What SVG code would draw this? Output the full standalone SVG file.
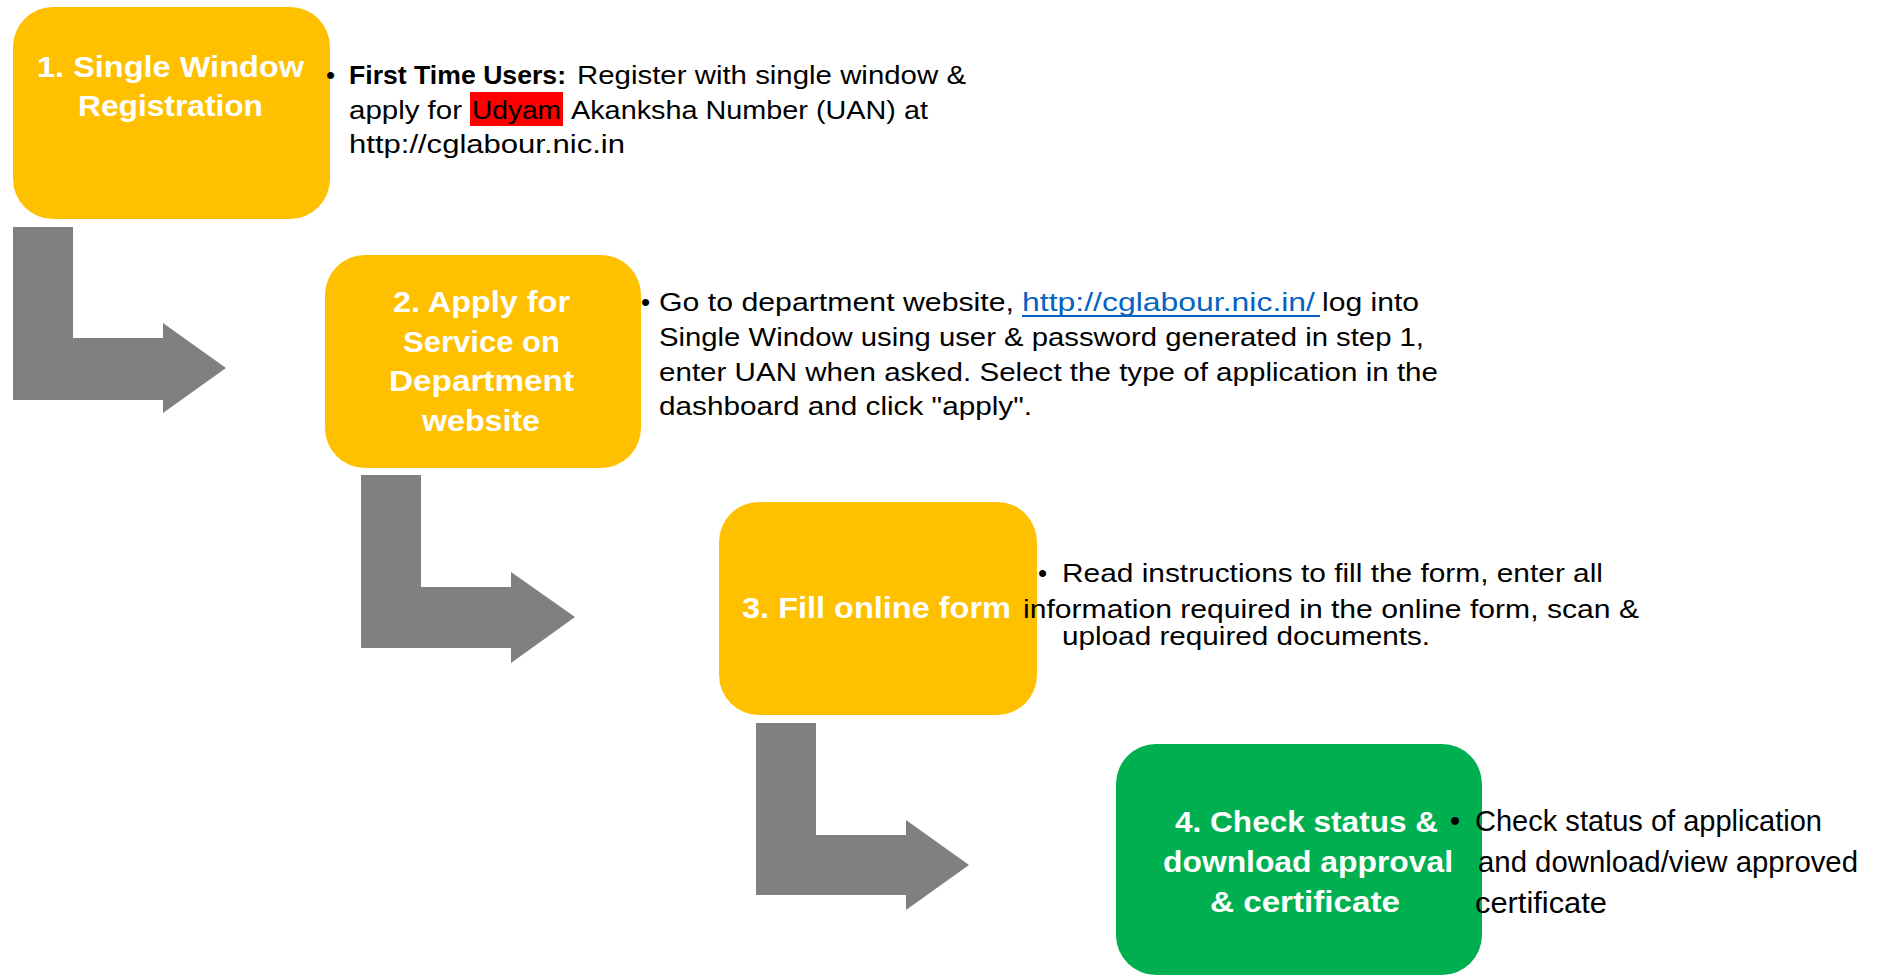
<svg xmlns="http://www.w3.org/2000/svg" width="1881" height="976" viewBox="0 0 1881 976">
<defs>
<style>
.box-y{fill:#FFC000}
.box-g{fill:#00B050}
.arrow{fill:#808080}
.t{font-family:"Liberation Sans",Arial,sans-serif;font-size:26px;fill:#000}
.t4{font-size:29px}
.b{font-weight:bold}
.bt{font-family:"Liberation Sans",Arial,sans-serif;font-size:30px;font-weight:bold;fill:#fff}
.link{fill:#0563C1}
</style>
</defs>
<rect width="1881" height="976" fill="#fff"/>
<g id="connectors">
<path class="arrow" d="M13,227 H73 V338 H163 V323 L226,368 L163,413 V400 H13 Z"/>
<path class="arrow" d="M361,475 H421 V587 H511 V572 L575,617 L511,663 V648 H361 Z"/>
<path class="arrow" d="M756,723 H816 V835 H906 V820 L969,865 L906,910 V895 H756 Z"/>
</g>
<g id="node1">
<rect class="box-y" x="13" y="7" width="317" height="212" rx="40"/>
<text class="bt" x="37" y="77" textLength="267" lengthAdjust="spacingAndGlyphs">1. Single Window</text>
<text class="bt" x="78" y="116" textLength="185" lengthAdjust="spacingAndGlyphs">Registration</text>
</g>
<g id="text1">
<text class="t" x="326" y="84">•</text>
<text class="t b" x="349" y="84" textLength="217" lengthAdjust="spacingAndGlyphs">First Time Users:</text>
<text class="t" x="577" y="84" textLength="389" lengthAdjust="spacingAndGlyphs">Register with single window &amp;</text>
<text class="t" x="349" y="119" textLength="113" lengthAdjust="spacingAndGlyphs">apply for</text>
<rect x="470" y="92" width="93" height="34" fill="#FF0000"/>
<text class="t" x="472" y="119" textLength="89" lengthAdjust="spacingAndGlyphs">Udyam</text>
<text class="t" x="571" y="119" textLength="357" lengthAdjust="spacingAndGlyphs">Akanksha Number (UAN) at</text>
<text class="t" x="349" y="153" textLength="276" lengthAdjust="spacingAndGlyphs">http://cglabour.nic.in</text>
</g>
<g id="node2">
<rect class="box-y" x="325" y="255" width="316" height="213" rx="40"/>
<text class="bt" x="393" y="312" textLength="177" lengthAdjust="spacingAndGlyphs">2. Apply for</text>
<text class="bt" x="403" y="352" textLength="157" lengthAdjust="spacingAndGlyphs">Service on</text>
<text class="bt" x="389" y="391" textLength="185" lengthAdjust="spacingAndGlyphs">Department</text>
<text class="bt" x="422" y="431" textLength="118" lengthAdjust="spacingAndGlyphs">website</text>
</g>
<g id="text2">
<text class="t" x="641" y="311">•</text>
<text class="t" x="659" y="311" textLength="355" lengthAdjust="spacingAndGlyphs">Go to department website,</text>
<text class="t link" x="1022" y="311" textLength="293" lengthAdjust="spacingAndGlyphs">http://cglabour.nic.in/</text>
<rect x="1022" y="315" width="298" height="2" fill="#0563C1"/>
<text class="t" x="1322" y="311" textLength="97" lengthAdjust="spacingAndGlyphs">log into</text>
<text class="t" x="659" y="346" textLength="765" lengthAdjust="spacingAndGlyphs">Single Window using user &amp; password generated in step 1,</text>
<text class="t" x="659" y="381" textLength="779" lengthAdjust="spacingAndGlyphs">enter UAN when asked. Select the type of application in the</text>
<text class="t" x="659" y="415" textLength="373" lengthAdjust="spacingAndGlyphs">dashboard and click "apply".</text>
</g>
<g id="node3">
<rect class="box-y" x="719" y="502" width="318" height="213" rx="40"/>
<text class="bt" x="742" y="618" textLength="269" lengthAdjust="spacingAndGlyphs">3. Fill online form</text>
</g>
<g id="text3">
<text class="t" x="1038" y="582">•</text>
<text class="t" x="1062" y="582" textLength="541" lengthAdjust="spacingAndGlyphs">Read instructions to fill the form, enter all</text>
<text class="t" x="1023" y="618" textLength="616" lengthAdjust="spacingAndGlyphs">information required in the online form, scan &amp;</text>
<text class="t" x="1062" y="645" textLength="368" lengthAdjust="spacingAndGlyphs">upload required documents.</text>
</g>
<g id="node4">
<rect class="box-g" x="1116" y="744" width="366" height="231" rx="40"/>
<text class="bt" x="1175" y="832" textLength="263" lengthAdjust="spacingAndGlyphs">4. Check status &amp;</text>
<text class="bt" x="1163" y="872" textLength="290" lengthAdjust="spacingAndGlyphs">download approval</text>
<text class="bt" x="1210" y="912" textLength="190" lengthAdjust="spacingAndGlyphs">&amp; certificate</text>
</g>
<g id="text4">
<text class="t t4" x="1450" y="831">•</text>
<text class="t t4" x="1475" y="831" textLength="347" lengthAdjust="spacingAndGlyphs">Check status of application</text>
<text class="t t4" x="1478" y="872" textLength="380" lengthAdjust="spacingAndGlyphs">and download/view approved</text>
<text class="t t4" x="1475" y="913" textLength="132" lengthAdjust="spacingAndGlyphs">certificate</text>
</g>
</svg>
